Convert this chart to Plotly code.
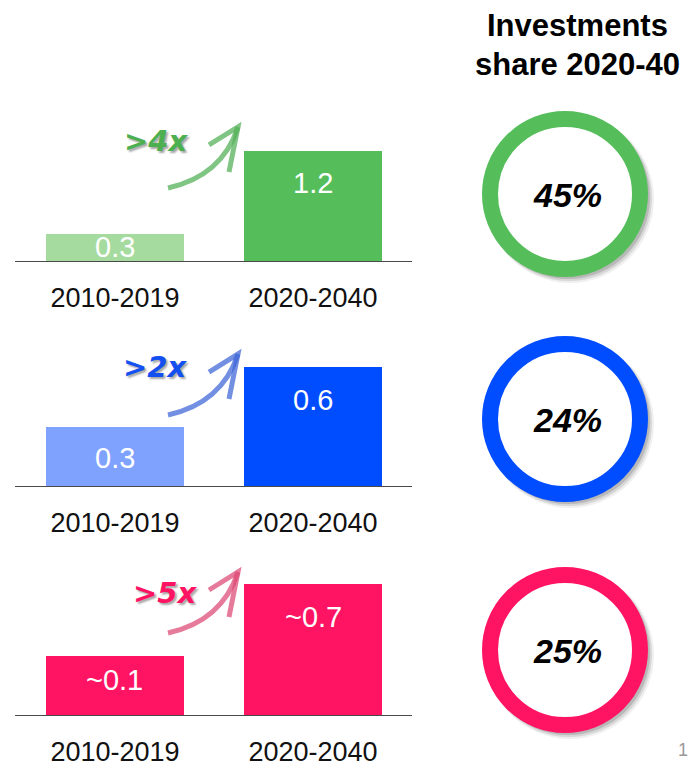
import math
import plotly.graph_objects as go

W, H = 691, 768

# ---------------- data ----------------
categories = ["2010-2019", "2020-2040"]
values_green = [0.3, 1.2]
values_blue = [0.3, 0.6]
values_pink = [0.1, 0.7]
labels_green = ["0.3", "1.2"]
labels_blue = ["0.3", "0.6"]
labels_pink = ["~0.1", "~0.7"]
growth_labels = [">4x", ">2x", ">5x"]
share_labels = ["45%", "24%", "25%"]
title_lines = ["Investments", "share 2020-40"]

# ---------------- style ----------------
FONT = "Liberation Sans, Arial, sans-serif"


def px(x, y):
    return x / W, 1 - y / H


panels = [
    dict(values=values_green, labels=labels_green, growth=growth_labels[0], share=share_labels[0],
         colors=["#A6DBA0", "#55BE5A"], text_color="#4CB050", arrow_color="rgba(80,175,85,0.72)",
         base_px=261, top_px=141, ytype="linear", yrange=[0, 1.309], shifts=[-13, -32],
         arrow_tail=(168, 188), growth_pos=(156, 141), circle_c=(565, 194)),
    dict(values=values_blue, labels=labels_blue, growth=growth_labels[1], share=share_labels[1],
         colors=["#7FA2FF", "#004CFF"], text_color="#1450F0", arrow_color="rgba(60,100,215,0.72)",
         base_px=486, top_px=356, ytype="linear", yrange=[0, 0.6555], shifts=[-31, -33],
         arrow_tail=(168, 415), growth_pos=(155, 367), circle_c=(565, 419)),
    dict(values=values_pink, labels=labels_pink, growth=growth_labels[2], share=share_labels[2],
         colors=["#FF1464", "#FF1464"], text_color="#FF1464", arrow_color="rgba(220,70,115,0.72)",
         base_px=715, top_px=575, ytype="log", yrange=[-1.691, -0.052], shifts=[-24, -33],
         arrow_tail=(168, 633), growth_pos=(165, 593), circle_c=(565, 650)),
]

fig = go.Figure()
shapes = []
annotations = []

for i, p in enumerate(panels):
    n = "" if i == 0 else str(i + 1)
    xa, ya = "x" + n, "y" + n
    fig.add_trace(go.Bar(
        x=categories, y=p["values"], xaxis=xa, yaxis=ya,
        marker=dict(color=p["colors"], line=dict(width=0)),
        width=0.697, hoverinfo="skip", showlegend=False,
    ))
    y0 = 1 - p["base_px"] / H
    y1 = 1 - p["top_px"] / H
    fig.layout["xaxis" + n] = dict(
        domain=[15 / W, 412 / W], anchor=ya, type="category", range=[-0.505, 1.5],
        showline=True, linecolor="#4a4a4a", linewidth=1, showgrid=False, zeroline=False,
        ticks="outside", ticklen=13, tickcolor="rgba(0,0,0,0)",
        tickfont=dict(family=FONT, size=27, color="#111111"), fixedrange=True,
    )
    fig.layout["yaxis" + n] = dict(
        domain=[y0, y1], anchor=xa, type=p["ytype"], range=p["yrange"], visible=False,
        showgrid=False, zeroline=False, fixedrange=True,
    )
    # value labels inside bars
    for cat, v, lab, sh in zip(categories, p["values"], p["labels"], p["shifts"]):
        yv = math.log10(v) if p["ytype"] == "log" else v
        annotations.append(dict(
            x=cat, y=yv, xref=xa, yref=ya, text=lab, showarrow=False, yshift=sh,
            xanchor="center", yanchor="middle",
            font=dict(family=FONT, size=29, color="white"),
        ))
    # growth label
    gx, gy = px(*p["growth_pos"])
    annotations.append(dict(
        x=gx, y=gy, xref="paper", yref="paper", text=p["growth"], showarrow=False,
        xanchor="center", yanchor="middle",
        font=dict(family="DejaVu Sans, sans-serif", size=29, color=p["text_color"],
                  weight="bold", style="italic", shadow="2px 2px 2px rgba(0,0,0,0.35)"),
    ))
    # curved arrow
    tx, ty = p["arrow_tail"]
    cx, cy = tx + 54, ty - 12
    hx, hy = tx + 70, ty - 61
    pts = [(tx, ty), (cx, cy), (hx, hy)]
    pp = [px(a, b) for a, b in pts]
    path = "M {:.5f},{:.5f} Q {:.5f},{:.5f} {:.5f},{:.5f}".format(*pp[0], *pp[1], *pp[2])
    shapes.append(dict(type="path", path=path, xref="paper", yref="paper",
                       line=dict(color=p["arrow_color"], width=5)))
    lw = px(hx - 29, hy + 18)
    tip = px(hx, hy)
    rw = px(hx - 9, hy + 45)
    path2 = "M {:.5f},{:.5f} L {:.5f},{:.5f} L {:.5f},{:.5f}".format(*lw, *tip, *rw)
    shapes.append(dict(type="path", path=path2, xref="paper", yref="paper",
                       line=dict(color=p["arrow_color"], width=5)))
    # share circle with soft shadow
    ccx, ccy = p["circle_c"]
    for k, (off, r, a) in enumerate([(5, 84, 0.06), (4, 83, 0.10), (3, 82, 0.14)]):
        x0, yb = px(ccx - r + off, ccy + r + off)
        x1, yt = px(ccx + r + off, ccy - r + off)
        shapes.append(dict(type="circle", xref="paper", yref="paper", x0=x0, x1=x1, y0=yb, y1=yt,
                           fillcolor="rgba(0,0,0,{})".format(a), line=dict(width=0)))
    R = 75
    x0, yb = px(ccx - R, ccy + R)
    x1, yt = px(ccx + R, ccy - R)
    shapes.append(dict(type="circle", xref="paper", yref="paper", x0=x0, x1=x1, y0=yb, y1=yt,
                       fillcolor="white", line=dict(color=p["colors"][1], width=16)))
    sx, sy = px(ccx + 2, ccy + 1)
    annotations.append(dict(
        x=sx, y=sy, xref="paper", yref="paper", text=p["share"], showarrow=False,
        xanchor="center", yanchor="middle",
        font=dict(family=FONT, size=34, color="black", weight="bold", style="italic"),
    ))

# title
for line, ypx in zip(title_lines, [25, 64]):
    tx, ty = px(577, ypx)
    annotations.append(dict(
        x=tx, y=ty, xref="paper", yref="paper", text=line, showarrow=False,
        xanchor="center", yanchor="middle",
        font=dict(family=FONT, size=31, color="black", weight="bold"),
    ))

# page number
annotations.append(dict(
    x=690 / W, y=1 - 750 / H, xref="paper", yref="paper", text="1", showarrow=False,
    xanchor="right", yanchor="middle", font=dict(family=FONT, size=18, color="#9a9a9a"),
))

fig.update_layout(
    width=W, height=H, margin=dict(l=0, r=0, t=0, b=0),
    paper_bgcolor="white", plot_bgcolor="rgba(0,0,0,0)",
    shapes=shapes, annotations=annotations, showlegend=False, bargap=0,
)

fig.write_html("out.html", config={"displayModeBar": False},
               post_script="document.body.style.margin='0px';document.body.style.padding='0px';")
